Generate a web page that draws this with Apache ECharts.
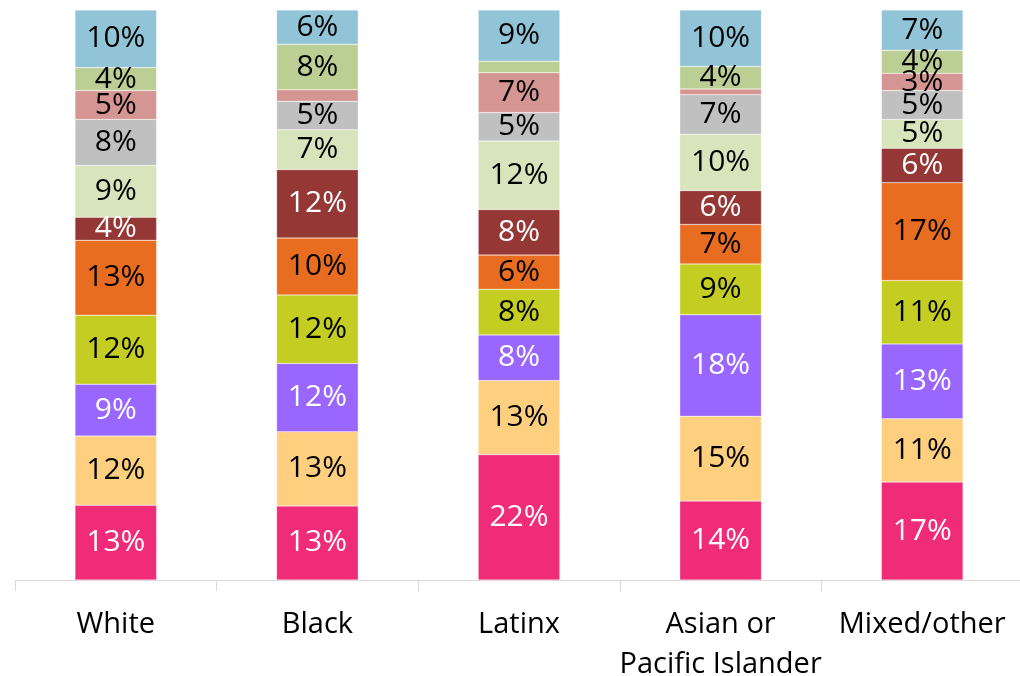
<!DOCTYPE html>
<html>
<head>
<meta charset="utf-8">
<script src="https://cdn.jsdelivr.net/npm/echarts@6/dist/echarts.min.js"></script>
<style>
  html, body { margin: 0; padding: 0; background: #fff; }
  #chart { width: 1020px; height: 676px; }
</style>
</head>
<body>
<div id="chart"></div>
<script>
// Groups along the x axis
const categories = ['White', 'Black', 'Latinx', 'Asian or\nPacific Islander', 'Mixed/other'];

// Percent share of each segment, per group (bottom segment first)
const seg1  = [13, 13, 22, 14, 17];
const seg2  = [12, 13, 13, 15, 11];
const seg3  = [9, 12, 8, 18, 13];
const seg4  = [12, 12, 8, 9, 11];
const seg5  = [13, 10, 6, 7, 17];
const seg6  = [4, 12, 8, 6, 6];
const seg7  = [9, 7, 12, 10, 5];
const seg8  = [8, 5, 5, 7, 5];
const seg9  = [5, 2, 7, 1, 3];
const seg10 = [4, 8, 2, 4, 4];
const seg11 = [10, 6, 9, 10, 7];

const segments = [seg1, seg2, seg3, seg4, seg5, seg6, seg7, seg8, seg9, seg10, seg11];

const colors = ['#F02B77', '#FDCF7E', '#9966FF', '#C3CD22', '#E96D20', '#953735',
                '#D8E4BC', '#C0C0C0', '#D59593', '#BBCF95', '#92C4D7'];
const labelColors = ['#fff', '#000', '#fff', '#000', '#000', '#fff',
                     '#000', '#000', '#000', '#000', '#000'];

// Each column is scaled to a full 100% height
const totals = categories.map((_, i) => segments.reduce((s, arr) => s + arr[i], 0));

const FONT = '"Open Sans", "Noto Sans", sans-serif';

const series = segments.map((arr, si) => ({
  type: 'bar',
  stack: 'share',
  barWidth: '40.5%',
  itemStyle: { color: colors[si], borderColor: 'rgba(255,255,255,0.5)', borderWidth: 0.5 },
  label: {
    show: true,
    position: 'inside',
    color: labelColors[si],
    fontFamily: FONT,
    fontSize: 30,
    formatter: p => p.data.raw >= 3 ? p.data.raw + '%' : ''
  },
  data: arr.map((v, i) => ({ value: v / totals[i] * 100, raw: v }))
}));

const chart = echarts.init(document.getElementById('chart'), null, { renderer: 'canvas' });
chart.setOption({
  animation: false,
  grid: { left: 15, top: 10, width: 1008, height: 570, containLabel: false, outerBoundsMode: 'none' },
  xAxis: {
    type: 'category',
    data: categories,
    axisLine: { lineStyle: { color: '#D9D9D9', width: 1 } },
    axisTick: { show: true, length: 11, lineStyle: { color: '#D9D9D9' } },
    axisLabel: {
      color: '#000',
      fontFamily: FONT,
      fontSize: 29,
      lineHeight: 40,
      margin: 25,
      interval: 0
    }
  },
  yAxis: {
    type: 'value',
    min: 0,
    max: 100,
    show: false,
    splitLine: { show: false }
  },
  series: series
});
</script>
</body>
</html>
